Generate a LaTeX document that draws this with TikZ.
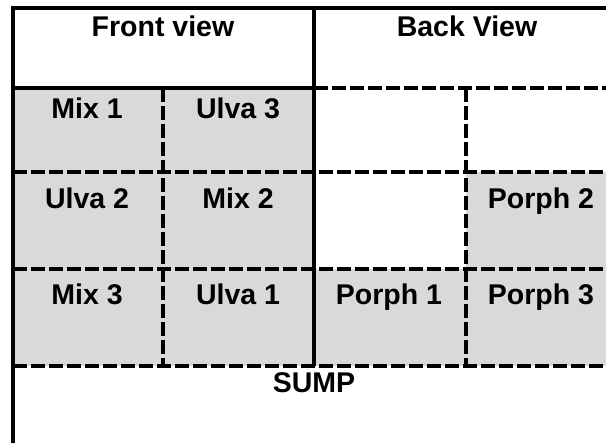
\documentclass[tikz,border=0pt]{standalone}
\usepackage{fontspec}
\setmainfont{Liberation Sans}
\definecolor{cellgray}{RGB}{217,217,217}
\tikzset{
  solidline/.style={line width=4pt, line cap=butt},
  dashline/.style={line width=4.6pt, dash pattern=on 14pt off 4pt},
  lbl/.style={font=\fontsize{28.5}{34}\selectfont\bfseries, anchor=base, inner sep=0pt},
}
\begin{document}
\begin{tikzpicture}[x=1pt, y=-1pt]
  \useasboundingbox (0,0) rectangle (606,443);
  % grid positions (pixels from top-left)
  \def\xL{13}\def\xA{163}\def\xM{314}\def\xB{466}\def\xR{620}
  \def\yT{8}\def\yH{88}\def\yA{172}\def\yB{269}\def\yC{366}
  % shaded cells
  \fill[cellgray] (\xL,\yH) rectangle (\xM,\yC);
  \fill[cellgray] (\xB,\yA) rectangle (\xR,\yB);
  \fill[cellgray] (\xM,\yB) rectangle (\xR,\yC);
  % dashed tank divisions
  \draw[dashline] (\xM,\yH) -- (\xR,\yH);
  \draw[dashline] (\xL,\yA) -- (\xR,\yA);
  \draw[dashline] (\xL,\yB) -- (\xR,\yB);
  \draw[dashline] (\xL,\yC) -- (\xR,\yC);
  \draw[dashline] (\xA,\yH) -- (\xA,\yC);
  \draw[dashline] (\xB,\yH) -- (\xB,\yC);
  % solid outline
  \draw[solidline] (\xL,443) -- (\xL,\yT) -- (\xR,\yT);
  \draw[solidline] (\xM,\yT) -- (\xM,\yC);
  \draw[solidline] (\xL,\yH) -- (\xM,\yH);
  % labels
  \node[lbl] (front) at (163,36.5) {Front view};
  \node[lbl] (back)  at (467,36.5) {Back View};
  \node[lbl] (mix1)  at (87,119) {Mix 1};
  \node[lbl] (ulva3) at (238,119) {Ulva 3};
  \node[lbl] (ulva2) at (87,208.5) {Ulva 2};
  \node[lbl] (mix2)  at (238,208.5) {Mix 2};
  \node[lbl] (porph2) at (541,208.5) {Porph 2};
  \node[lbl] (mix3)  at (87,305) {Mix 3};
  \node[lbl] (ulva1) at (238,305) {Ulva 1};
  \node[lbl] (porph1) at (389,305) {Porph 1};
  \node[lbl] (porph3) at (541,305) {Porph 3};
  \node[lbl] (sump)  at (314,393) {SUMP};
\end{tikzpicture}
\end{document}
